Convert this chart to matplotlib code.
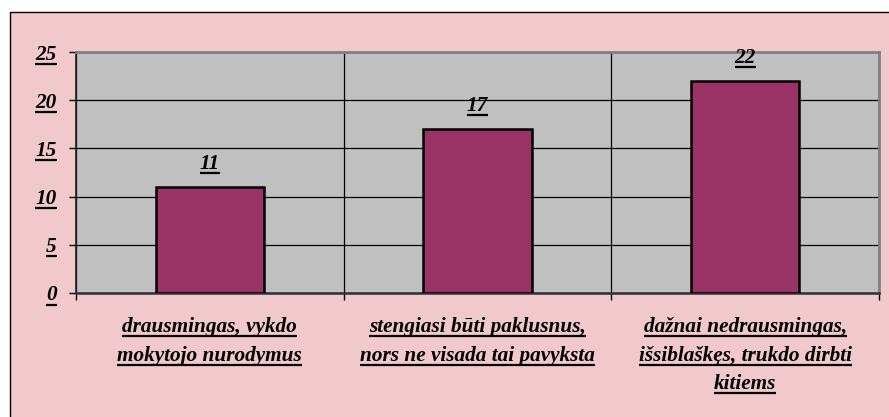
import numpy as np
import matplotlib
matplotlib.use("Agg")
import matplotlib.pyplot as plt
from matplotlib.patches import Rectangle
from matplotlib.lines import Line2D
from matplotlib.transforms import IdentityTransform

# data
categories = [
    ["drausmingas, vykdo", "mokytojo nurodymus"],
    ["stengiasi būti paklusnus,", "nors ne visada tai pavyksta"],
    ["dažnai nedrausmingas,", "išsiblaškęs, trukdo dirbti", "kitiems"],
]
values = [11, 17, 22]
yticks = [0, 5, 10, 15, 20, 25]

W, H = 889, 417
font = dict(family="Liberation Serif", weight="bold", style="italic", size=15.3)

fig = plt.figure(figsize=(W / 100, H / 100), dpi=100, facecolor="white")

# pink chart area with black frame on left/top
bg = Rectangle((10 / W, -0.01), 1.0, 1 - 12 / H + 0.01, transform=fig.transFigure,
               facecolor="#F1C9CC", edgecolor="black", linewidth=1, zorder=-10)
fig.add_artist(bg)

ax = fig.add_axes([76 / W, (H - 293) / H, (879 - 76) / W, (293 - 52) / H])
ax.set_facecolor("#C0C0C0")

x = np.arange(len(values))
ax.bar(x, values, width=0.405, color="#993366", edgecolor="black", linewidth=1.8, zorder=3)

ax.set_xlim(-0.5, len(values) - 0.5)
ax.set_ylim(0, 25)
ax.set_yticks(yticks)
ax.set_yticklabels([str(v) for v in yticks], fontdict=font)
ax.tick_params(axis="y", direction="out", length=5, width=1, pad=9, color="black")

ax.set_xticks(x)
ax.set_xticklabels([])
ax.tick_params(axis="x", which="major", length=0)
ax.set_xticks(np.arange(-0.5, len(values)), minor=True)
ax.tick_params(axis="x", which="minor", direction="out", length=5, width=1, color="black")

ax.grid(axis="y", color="black", linewidth=0.9, zorder=1)
ax.grid(axis="x", which="minor", color="black", linewidth=0.9, zorder=1)
ax.set_axisbelow(True)

ax.spines["left"].set_color("#202020")
ax.spines["left"].set_linewidth(1.2)
ax.spines["bottom"].set_color("#303030")
ax.spines["bottom"].set_linewidth(1.8)
for s in ("top", "right"):
    ax.spines[s].set_color("#808080")
    ax.spines[s].set_linewidth(2)

underlined = list(ax.get_yticklabels())

# value labels
for xi, v in zip(x, values):
    t = ax.annotate(str(v), xy=(xi, v), xytext=(0, 18), textcoords="offset pixels",
                    ha="center", va="baseline", zorder=5, **font)
    underlined.append(t)

# category labels, one text per line so each line gets its own underline
for xi, lines in zip(x, categories):
    for k, line in enumerate(lines):
        t = ax.annotate(line, xy=(xi, 0), xycoords=("data", "axes fraction"),
                        xytext=(0, -39 - 28.5 * k), textcoords="offset pixels",
                        ha="center", va="baseline", annotation_clip=False, **font)
        underlined.append(t)

fig.canvas.draw()
renderer = fig.canvas.get_renderer()
for t in underlined:
    if not t.get_text():
        continue
    bb = t.get_window_extent(renderer)
    y = bb.y0 + 1.0
    fig.add_artist(Line2D([bb.x0, bb.x1], [y, y], transform=IdentityTransform(),
                          color="black", linewidth=1.6, solid_capstyle="butt"))

fig.savefig("out.png", dpi=100, facecolor=fig.get_facecolor())
